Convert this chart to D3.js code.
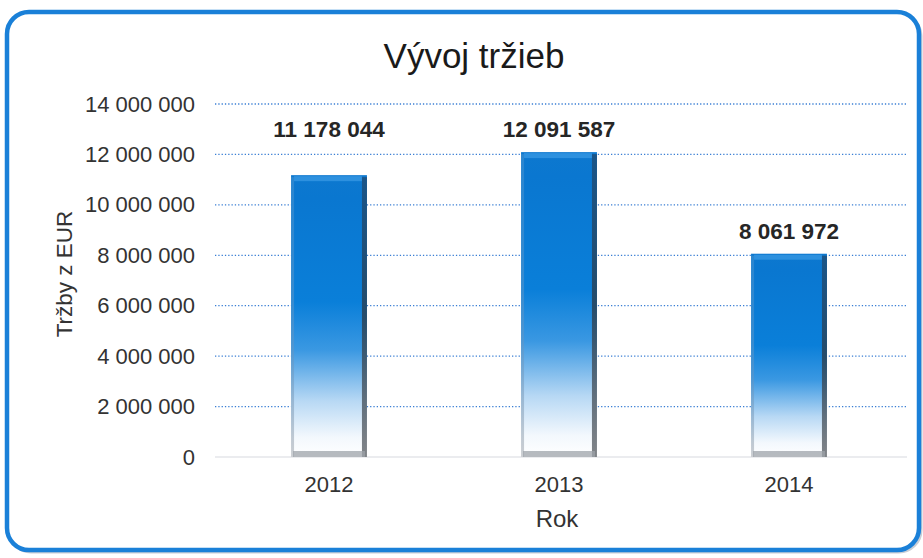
<!DOCTYPE html>
<html><head><meta charset="utf-8">
<script src="https://cdn.jsdelivr.net/npm/d3@7/dist/d3.min.js"></script>
<style>body{margin:0;background:#fff;font-family:"Liberation Sans",Arial,sans-serif;}</style>
</head><body>
<svg id="c" width="923" height="558"></svg>
<script>
const categories = ["2012", "2013", "2014"];
const values = [11178044, 12091587, 8061972];
const yTicks = [0, 2000000, 4000000, 6000000, 8000000, 10000000, 12000000, 14000000];
const title = "Vývoj tržieb";
const xTitle = "Rok";
const yTitle = "Tržby z EUR";

const svg = d3.select("#c");
const W = 923, H = 558;
const m = {left: 214, right: 19, top: 104, bottom: 101};
const fmt = v => d3.format(",")(v).replace(/,/g, " ");
const FF = "Liberation Sans, Arial, sans-serif";

// frame
svg.append("rect").attr("x", 9).attr("y", 14).attr("width", 912).attr("height", 538)
  .attr("rx", 22).attr("fill", "none").attr("stroke", "#c9ced6").attr("stroke-width", 3);
svg.append("rect").attr("x", 7).attr("y", 12).attr("width", 912).attr("height", 538)
  .attr("rx", 22).attr("fill", "#fff").attr("stroke", "#1a80d8").attr("stroke-width", 4.5);

const defs = svg.append("defs");
const g1 = defs.append("linearGradient").attr("id", "bg").attr("x1", 0).attr("y1", 0).attr("x2", 0).attr("y2", 1);
[[0, "#0d78cf"], [0.08, "#0a77d0"], [0.45, "#0a7fd9"], [0.62, "#3a98e2"], [0.8, "#b7d8f4"], [0.93, "#f3f8fd"], [1, "#ffffff"]]
  .forEach(([o, c]) => g1.append("stop").attr("offset", o).attr("stop-color", c));
const gr = defs.append("linearGradient").attr("id", "rg").attr("x1", 0).attr("y1", 0).attr("x2", 0).attr("y2", 1);
[[0, "#1d4f7c"], [0.5, "#2a4256"], [1, "#6b6f74"]].forEach(([o, c]) => gr.append("stop").attr("offset", o).attr("stop-color", c));
const gl = defs.append("linearGradient").attr("id", "lg").attr("x1", 0).attr("y1", 0).attr("x2", 0).attr("y2", 1);
[[0, "#3f8fd0"], [0.6, "#5b95c8"], [1, "#a9adb3"]].forEach(([o, c]) => gl.append("stop").attr("offset", o).attr("stop-color", c));

const x = d3.scaleBand().domain(categories).range([m.left, W - m.right]).paddingInner(0.67).paddingOuter(0.335);
const y = d3.scaleLinear().domain([0, 14000000]).range([H - m.bottom, m.top]);

// title
svg.append("text").attr("x", 474).attr("y", 68).attr("text-anchor", "middle")
  .attr("font-size", 35).attr("fill", "#1a1a1a").text(title);

// grid
svg.append("g").selectAll("line").data(yTicks.filter(d => d > 0)).join("line")
  .attr("x1", m.left + 1).attr("x2", 907).attr("y1", d => y(d)).attr("y2", d => y(d))
  .attr("stroke", "#3b7fd4").attr("stroke-width", 1.3).attr("stroke-dasharray", "1.3,2");
svg.append("line").attr("x1", m.left + 1).attr("x2", 907).attr("y1", y(0)).attr("y2", y(0))
  .attr("stroke", "#e4e6ea").attr("stroke-width", 1.5);

// y axis
const ya = svg.append("g").attr("transform", `translate(${m.left},0)`)
  .call(d3.axisLeft(y).tickValues(yTicks).tickFormat(fmt).tickSize(0).tickPadding(19));
ya.select(".domain").remove();
ya.selectAll("text").attr("font-size", 22).attr("fill", "#333").attr("font-family", FF);

// x axis
const xa = svg.append("g").attr("transform", `translate(0,${H - m.bottom})`)
  .call(d3.axisBottom(x).tickSize(0).tickPadding(19));
xa.select(".domain").remove();
xa.selectAll("text").attr("font-size", 22).attr("fill", "#333").attr("font-family", FF);

svg.append("text").attr("x", 557).attr("y", 527).attr("text-anchor", "middle")
  .attr("font-size", 24).attr("fill", "#333").text(xTitle);
svg.append("text").attr("transform", "translate(72,274) rotate(-90)").attr("text-anchor", "middle")
  .attr("font-size", 22.5).attr("fill", "#333").text(yTitle);

// bars
const bars = svg.append("g").selectAll("g").data(values).join("g");
bars.append("rect").attr("x", (d, i) => x(categories[i])).attr("y", d => y(d))
  .attr("width", x.bandwidth()).attr("height", d => y(0) - y(d)).attr("fill", "url(#bg)");
bars.append("rect").attr("x", (d, i) => x(categories[i]) + x.bandwidth() - 5).attr("y", d => y(d) + 2)
  .attr("width", 5).attr("height", d => y(0) - y(d) - 2).attr("fill", "url(#rg)").attr("opacity", 0.85);
bars.append("rect").attr("x", (d, i) => x(categories[i])).attr("y", d => y(d) + 2)
  .attr("width", 3).attr("height", d => y(0) - y(d) - 2).attr("fill", "url(#lg)").attr("opacity", 0.6);
bars.append("rect").attr("x", (d, i) => x(categories[i]) + 3).attr("y", d => y(d) + 1)
  .attr("width", x.bandwidth() - 8).attr("height", 5).attr("fill", "#3c9be6").attr("opacity", 0.7);
bars.append("rect").attr("x", (d, i) => x(categories[i]) + 2).attr("y", d => y(0) - 6)
  .attr("width", x.bandwidth() - 4).attr("height", 6).attr("fill", "#9ea3aa").attr("opacity", 0.75);

// value labels: placed just above bar; if it would collide with a gridline, centre it between gridlines
const capH = 16;
function labelY(v) {
  let base = y(v) - 15;
  const top = base - capH;
  const hit = yTicks.find(t => y(t) > top - 2 && y(t) < base + 2);
  if (hit !== undefined) {
    const upper = yTicks.find(t => t > hit);
    const mid = (y(hit) + y(upper)) / 2;
    base = mid + capH / 2;
  }
  return base;
}
bars.append("text").attr("x", (d, i) => x(categories[i]) + x.bandwidth() / 2).attr("y", d => labelY(d))
  .attr("text-anchor", "middle").attr("font-size", 22.5).attr("font-weight", "bold").attr("fill", "#262626")
  .attr("font-family", FF).text(d => fmt(d));
</script>
</body></html>
